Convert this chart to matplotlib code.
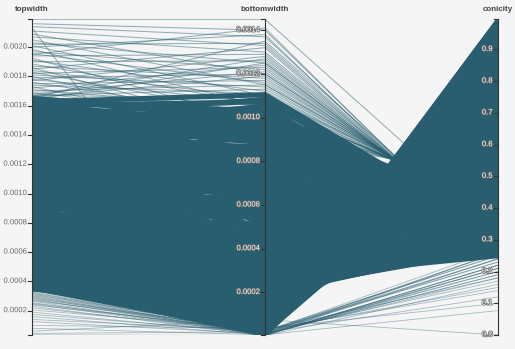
import matplotlib
matplotlib.use("Agg")
import numpy as np
import matplotlib.pyplot as plt
from matplotlib.collections import LineCollection
import matplotlib.patheffects as pe

plt.rcParams['font.family'] = ['Liberation Sans', 'DejaVu Sans']

dimensions = ['topwidth', 'bottomwidth', 'conicity']

# axis domains
topwidth_range = [0.000034, 0.00219]
bottomwidth_range = [0.000005, 0.00145]
conicity_range = [0.0, 0.995]

topwidth_ticks = [0.0002, 0.0004, 0.0006, 0.0008, 0.0010, 0.0012, 0.0014, 0.0016, 0.0018, 0.0020]
bottomwidth_ticks = [0.0002, 0.0004, 0.0006, 0.0008, 0.0010, 0.0012, 0.0014]
conicity_ticks = [0.0, 0.1, 0.2, 0.3, 0.4, 0.5, 0.6, 0.7, 0.8, 0.9]

# bulk of the records (widths in units of 1e-6)
core_topwidth = [
    350, 350, 350, 375, 375, 375, 400, 400, 400, 425, 425, 425,
    450, 450, 450, 475, 475, 475, 500, 500, 500, 525, 525, 525,
    550, 550, 550, 575, 575, 575, 600, 600, 600, 625, 625, 625,
    650, 650, 650, 675, 675, 675, 700, 700, 700, 725, 725, 725,
    750, 750, 750, 775, 775, 775, 800, 800, 800, 825, 825, 825,
    850, 850, 850, 875, 875, 875, 900, 900, 900, 925, 925, 925,
    950, 950, 950, 975, 975, 975, 1000, 1000, 1000, 1025, 1025, 1025,
    1050, 1050, 1050, 1075, 1075, 1075, 1100, 1100, 1100, 1125, 1125, 1125,
    1150, 1150, 1150, 1175, 1175, 1175, 1200, 1200, 1200, 1225, 1225, 1225,
    1250, 1250, 1250, 1275, 1275, 1275, 1300, 1300, 1300, 1325, 1325, 1325,
    1350, 1350, 1350, 1375, 1375, 1375, 1400, 1400, 1400, 1425, 1425, 1425,
    1450, 1450, 1450, 1475, 1475, 1475, 1500, 1500, 1500, 1525, 1525, 1525,
    1550, 1550, 1550, 1575, 1575, 1575, 1600, 1600, 1600, 1625, 1625, 1625,
    1650, 1650, 1650, 1480, 1560, 1610, 1380, 1630,
    355, 365, 380, 390, 410, 430, 445, 460, 490, 510,
    540, 570, 610, 660, 700, 760, 820, 880, 950, 1050,
    1150, 1250, 1350, 1450, 1550, 1620, 400, 470, 530, 590,
    1640, 1600, 1570, 1530, 1500, 1460, 1420, 1390, 1340, 1300,
    1260, 1210, 1160, 1110, 1060, 1590, 1620, 1645, 1540, 1440, 1360,
    1000, 1100, 1150, 1320, 1520]
core_bottomwidth = [
    262, 175, 88, 255, 146, 45, 244, 112, 96, 230, 178, 47,
    324, 140, 104, 309, 214, 48, 290, 170, 110, 268, 252, 47,
    380, 204, 116, 356, 150, 46, 330, 240, 120, 456, 181, 44,
    429, 280, 124, 398, 216, 40, 364, 322, 126, 508, 254, 36,
    472, 368, 128, 434, 294, 31, 592, 216, 128, 553, 338, 25,
    510, 255, 128, 464, 385, 18, 639, 297, 126, 592, 435, 9,
    542, 342, 124, 731, 488, 244, 680, 390, 120, 625, 287, 246,
    567, 441, 116, 774, 333, 247, 715, 495, 110, 652, 382, 248,
    586, 552, 104, 811, 435, 247, 744, 312, 96, 674, 490, 245,
    912, 362, 88, 842, 548, 242, 767, 416, 78, 689, 610, 238,
    945, 472, 68, 866, 674, 234, 784, 532, 56, 1054, 385, 228,
    972, 594, 44, 885, 442, 221, 795, 660, 30, 1083, 503, 214,
    992, 728, 16, 898, 567, 205, 1072, 800, 400, 1105, 634, 195,
    1006, 462, 396, 830, 925, 960, 855, 1030,
    20, 55, 8, 130, 70, 15, 100, 45, 190, 25,
    160, 85, 210, 60, 140, 230, 30, 175, 95, 200,
    65, 150, 12, 120, 270, 40, 250, 280, 220, 300,
    880, 940, 820, 760, 900, 700, 980, 620, 780, 860,
    700, 640, 760, 580, 680, 700, 760, 990, 1020, 820, 940,
    665, 640, 526, 710, 905]
core_conicity = [
    0.25, 0.50, 0.75, 0.32, 0.61, 0.88, 0.39, 0.72, 0.76, 0.46, 0.58, 0.89,
    0.28, 0.69, 0.77, 0.35, 0.55, 0.90, 0.42, 0.66, 0.78, 0.49, 0.52, 0.91,
    0.31, 0.63, 0.79, 0.38, 0.74, 0.92, 0.45, 0.60, 0.80, 0.27, 0.71, 0.93,
    0.34, 0.57, 0.81, 0.41, 0.68, 0.94, 0.48, 0.54, 0.82, 0.30, 0.65, 0.95,
    0.37, 0.51, 0.83, 0.44, 0.62, 0.96, 0.26, 0.73, 0.84, 0.33, 0.59, 0.97,
    0.40, 0.70, 0.85, 0.47, 0.56, 0.98, 0.29, 0.67, 0.86, 0.36, 0.53, 0.99,
    0.43, 0.64, 0.87, 0.25, 0.50, 0.75, 0.32, 0.61, 0.88, 0.39, 0.72, 0.76,
    0.46, 0.58, 0.89, 0.28, 0.69, 0.77, 0.35, 0.55, 0.90, 0.42, 0.66, 0.78,
    0.49, 0.52, 0.91, 0.31, 0.63, 0.79, 0.38, 0.74, 0.92, 0.45, 0.60, 0.80,
    0.27, 0.71, 0.93, 0.34, 0.57, 0.81, 0.41, 0.68, 0.94, 0.48, 0.54, 0.82,
    0.30, 0.65, 0.95, 0.37, 0.51, 0.83, 0.44, 0.62, 0.96, 0.26, 0.73, 0.84,
    0.33, 0.59, 0.97, 0.40, 0.70, 0.85, 0.47, 0.56, 0.98, 0.29, 0.67, 0.86,
    0.36, 0.53, 0.99, 0.43, 0.64, 0.87, 0.33, 0.50, 0.75, 0.32, 0.61, 0.88,
    0.39, 0.72, 0.76, 0.44, 0.40, 0.41, 0.38, 0.36,
    0.66, 0.58, 0.72, 0.40, 0.52, 0.64, 0.46, 0.60, 0.29, 0.68,
    0.37, 0.50, 0.27, 0.56, 0.41, 0.30, 0.66, 0.33, 0.53, 0.28,
    0.70, 0.38, 0.80, 0.48, 0.31, 0.85, 0.27, 0.29, 0.33, 0.26,
    0.42, 0.38, 0.45, 0.48, 0.40, 0.50, 0.36, 0.55, 0.46, 0.41,
    0.49, 0.52, 0.44, 0.55, 0.47, 0.50, 0.46, 0.37, 0.35, 0.44, 0.38,
    0.50, 0.52, 0.32, 0.50, 0.40]

# wide records above the dense band
high_topwidth = [
    2190, 2160, 2140, 2130, 2110, 2090, 2070, 2050, 2030, 2010,
    2000, 1985, 1970, 1955, 1940, 1925, 1910, 1900, 1885, 1870,
    1860, 1850, 1840, 1830, 1820, 1810, 1800, 1790, 1780, 1770,
    1760, 1750, 1740, 1730, 1720, 1710, 1700, 1690, 1680, 1675,
    1670, 1665, 1660, 1655, 1650, 1645, 1640, 1635, 2020, 1950]
high_bottomwidth = [
    1450, 1400, 1370, 10, 1330, 1200, 1300, 1150, 1250, 1100,
    1380, 1050, 1220, 1160, 1290, 980, 1120, 1260, 1060, 1180,
    940, 1320, 1090, 1010, 1230, 1140, 960, 1200, 1070, 1280,
    1000, 1170, 1110, 920, 1240, 1040, 1150, 990, 1210, 1080,
    1130, 1270, 1030, 1190, 1350, 1100, 1250, 1060, 1340, 1410]
high_conicity = [
    0.34, 0.25, 0.26, 0.62, 0.27, 0.34, 0.29, 0.37, 0.31, 0.40,
    0.24, 0.42, 0.33, 0.36, 0.29, 0.46, 0.38, 0.30, 0.41, 0.35,
    0.48, 0.27, 0.39, 0.44, 0.32, 0.37, 0.47, 0.34, 0.40, 0.29,
    0.45, 0.36, 0.39, 0.49, 0.31, 0.43, 0.37, 0.45, 0.33, 0.40,
    0.38, 0.30, 0.43, 0.34, 0.28, 0.39, 0.31, 0.41, 0.27, 0.24]

# narrow records below the dense band
low_topwidth = [
    330, 325, 320, 315, 310, 305, 300, 295, 290, 285,
    280, 275, 270, 265, 255, 250, 245, 240, 230, 220,
    205, 190, 175, 160, 140, 125, 100, 80, 60, 45, 35]
low_bottomwidth = [
    14, 8, 20, 5, 25, 12, 3, 18, 9, 22,
    6, 15, 28, 4, 11, 19, 7, 24, 2, 13,
    30, 8, 16, 4, 26, 10, 35, 6, 75, 20, 3]
low_conicity = [
    0.26, 0.24, 0.27, 0.22, 0.25, 0.21, 0.26, 0.23, 0.19, 0.25,
    0.20, 0.24, 0.18, 0.22, 0.26, 0.17, 0.21, 0.23, 0.16, 0.20,
    0.14, 0.19, 0.12, 0.22, 0.15, 0.18, 0.10, 0.077, 0.0, 0.24, 0.21]

line_color = '#285e6f'
bg = '#f5f5f5'


def norm(vals, rng):
    v = np.asarray(vals, dtype=float)
    return (v - rng[0]) / (rng[1] - rng[0])


def segments(tw, bw, cn):
    yt = norm(np.asarray(tw) * 1e-6, topwidth_range)
    yb = norm(np.asarray(bw) * 1e-6, bottomwidth_range)
    yc = norm(cn, conicity_range)
    return [np.column_stack([[0, 1, 2], [a, b, c]]) for a, b, c in zip(yt, yb, yc)]


fig = plt.figure(figsize=(5.15, 3.49), dpi=100, facecolor=bg)
ax = fig.add_axes([32 / 515, 14 / 349, 466 / 515, 315.7 / 349])
ax.set_facecolor(bg)
ax.set_xlim(0, 2)
ax.set_ylim(0, 1)
ax.axis('off')

ax.add_collection(LineCollection(segments(core_topwidth, core_bottomwidth, core_conicity),
                                 colors=line_color, linewidths=3.7,
                                 capstyle='butt', joinstyle='round'))
ax.add_collection(LineCollection(segments(high_topwidth, high_bottomwidth, high_conicity),
                                 colors=line_color, linewidths=0.7, alpha=0.5))
ax.add_collection(LineCollection(segments(low_topwidth, low_bottomwidth, low_conicity),
                                 colors=line_color, linewidths=0.6, alpha=0.4))

# axes, ticks and labels
tick_len = 4 / 466 * 2
plain = [pe.withStroke(linewidth=1.6, foreground=bg)]
shadow = [pe.withStroke(linewidth=1.0, foreground='#6a6a6a')]
axis_info = [
    (topwidth_ticks, topwidth_range, '{:.4f}', '#666666', plain),
    (bottomwidth_ticks, bottomwidth_range, '{:.4f}', '#f4f4f4', shadow),
    (conicity_ticks, conicity_range, '{:.1f}', '#f4f4f4', shadow),
]
for k, (ticks, rng, fmt, tcolor, effect) in enumerate(axis_info):
    ax.plot([k, k], [0, 1], color='#333333', lw=0.8, clip_on=False, zorder=5)
    for end in (0, 1):
        ax.plot([k - tick_len, k], [end, end], color='#333333', lw=0.8,
                clip_on=False, zorder=5)
    for t in ticks:
        y = norm([t], rng)[0]
        ax.plot([k - tick_len, k], [y, y], color='#333333', lw=0.8,
                clip_on=False, zorder=5)
        ax.text(k - tick_len * 1.4, y, fmt.format(t), ha='right', va='center',
                fontsize=5.5, color=tcolor, zorder=6, path_effects=effect)
    ax.text(k, 1.032, dimensions[k], ha='center', va='center', fontsize=5.8,
            fontweight='bold', color='#444444', clip_on=False)

fig.savefig('out.png', dpi=100, facecolor=bg)
